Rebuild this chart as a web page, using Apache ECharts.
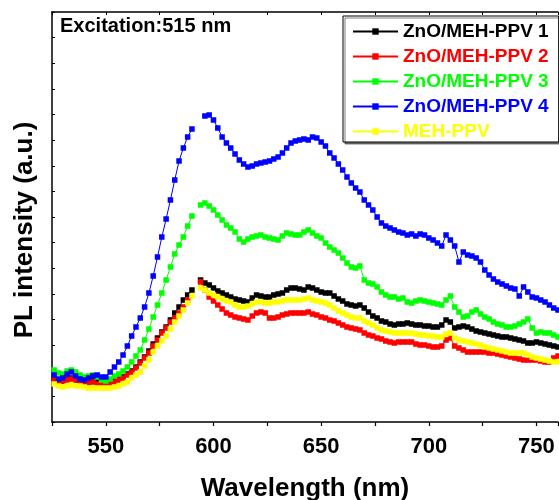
<!DOCTYPE html>
<html>
<head>
<meta charset="utf-8">
<script src="https://cdn.jsdelivr.net/npm/echarts/dist/echarts.min.js"></script>
<style>
  html, body { margin: 0; padding: 0; background: #fff; }
  #main { width: 559px; height: 500px; }
</style>
</head>
<body>
<div id="main"></div>
<script>
// wavelength (nm), 2 nm steps
const wavelength = [
  526,528,530,532,534,536,538,540,542,544,
  546,548,550,552,554,556,558,560,562,564,
  566,568,570,572,574,576,578,580,582,584,
  586,588,590,592,594,596,598,600,602,604,
  606,608,610,612,614,616,618,620,622,624,
  626,628,630,632,634,636,638,640,642,644,
  646,648,650,652,654,656,658,660,662,664,
  666,668,670,672,674,676,678,680,682,684,
  686,688,690,692,694,696,698,700,702,704,
  706,708,710,712,714,716,718,720,722,724,
  726,728,730,732,734,736,738,740,742,744,
  746,748,750,752,754,756,758,760
];

// PL intensity (a.u.); null = gap near 592 nm
const zno1 = [
  43,41,41,43,44,42,41,40,40,41,
  40,39,39,40,41,43,45,48,51,55,
  60,65,71,78,84,90,95,102,109,115,
  122,127,132,null,142,139,137,134,131,129,
  127,125,123,122,121,120,124,127,126,125,
  125,127,128,129,132,134,134,133,132,135,
  134,132,130,129,129,126,123,121,118,117,
  116,117,114,110,106,104,101,100,98,97,
  98,98,99,98,97,97,96,96,95,95,
  97,102,100,94,95,96,95,93,91,90,
  89,88,87,86,85,85,84,83,82,81,
  79,79,80,79,78,77,76,75
];
const zno2 = [
  43,41,41,42,43,42,41,40,39,40,
  38,38,38,39,40,42,44,47,50,54,
  59,64,69,76,82,89,94,100,104,109,
  115,122,null,null,140,132,125,121,117,113,
  109,107,105,104,103,102,106,109,110,109,
  104,104,105,107,108,109,109,109,109,110,
  108,107,105,104,102,101,99,97,95,94,
  93,92,89,87,86,84,83,81,80,79,
  80,80,80,80,78,77,77,76,75,75,
  76,82,84,76,74,72,70,70,70,70,
  70,69,69,68,67,66,65,64,63,62,
  62,62,62,61,60,60,64,66
];
const zno3 = [
  52,49,48,51,52,50,47,45,46,47,
  45,42,41,43,46,48,51,55,60,66,
  72,82,93,105,117,129,142,155,168,177,
  185,196,206,null,217,219,216,212,207,202,
  197,194,190,183,180,183,185,186,187,185,
  184,183,182,186,189,188,187,187,190,192,
  189,186,184,179,175,172,169,164,159,155,
  154,156,142,139,138,135,130,127,125,125,
  123,124,120,119,121,122,121,120,119,118,
  117,122,126,115,110,105,106,110,112,108,
  105,103,100,98,97,95,95,96,98,100,
  103,94,89,90,89,89,87,85
];
const zno4 = [
  47,43,44,48,50,46,43,42,44,46,
  47,45,45,50,55,60,67,76,86,95,
  104,115,129,146,165,185,203,222,242,261,
  274,285,293,null,null,306,307,302,294,285,
  279,274,268,262,258,255,256,258,259,260,
  261,263,265,269,274,279,281,282,283,282,
  285,284,280,276,269,264,258,252,245,239,
  234,230,222,217,212,205,199,196,194,192,
  190,189,187,188,186,188,187,184,182,179,
  176,187,182,176,160,170,167,166,164,160,
  152,147,143,140,138,136,134,133,126,135,
  130,125,124,122,120,117,114,112
];
const mehppv = [
  38,36,35,36,37,36,36,35,34,34,
  34,34,34,34,35,36,38,40,44,47,
  50,56,62,70,76,81,86,93,100,106,
  112,119,126,null,134,132,129,127,125,123,
  121,120,117,115,115,116,118,120,120,119,
  119,120,120,121,122,122,122,122,123,124,
  122,121,120,119,117,114,111,109,107,105,
  104,104,101,99,97,94,92,91,90,89,
  89,89,89,89,88,87,87,86,86,85,
  85,88,89,84,82,81,80,79,78,77,
  75,74,73,72,71,70,69,69,69,69,
  67,65,64,63,62,61,60,60
];

const names = ['ZnO/MEH-PPV 1', 'ZnO/MEH-PPV 2', 'ZnO/MEH-PPV 3', 'ZnO/MEH-PPV 4', 'MEH-PPV'];
const colors = ['#000000', '#ff0000', '#00ff00', '#0000ff', '#ffff00'];
const values = [zno1, zno2, zno3, zno4, mehppv];

const font = 'Liberation Sans, Arial, sans-serif';

let myChart = echarts.init(document.getElementById('main'));

let series = names.map(function (n, i) {
  return {
    name: n,
    type: 'line',
    data: wavelength.map(function (w, k) { return [w, values[i][k]]; }),
    symbol: 'rect',
    symbolSize: 5.5,
    showAllSymbol: true,
    connectNulls: false,
    lineStyle: { width: 1, color: colors[i] },
    itemStyle: { color: colors[i] },
    xAxisIndex: 0
  };
});

let option = {
  animation: false,
  backgroundColor: '#fff',
  grid: { left: 52, top: 12, right: 1, bottom: 78, outerBoundsMode: 'none', containLabel: false },
  graphic: [
    {
      type: 'text',
      left: 60,
      top: 16,
      style: { text: 'Excitation:515 nm', font: 'bold 20px ' + font, fill: '#000' }
    }
  ],
  legend: {
    orient: 'vertical',
    left: 343,
    top: 16,
    width: 214,
    padding: [6, 10, 1, 9],
    itemGap: 6,
    itemWidth: 45,
    itemHeight: 8,
    borderColor: '#000',
    borderWidth: 1,
    shadowColor: 'rgba(0,0,0,0.5)',
    shadowOffsetX: 2,
    shadowOffsetY: 2,
    backgroundColor: '#fff',
    textStyle: { fontFamily: font, fontWeight: 'bold', fontSize: 19, lineHeight: 18 },
    data: names.map(function (n, i) {
      return { name: n, textStyle: { color: colors[i] } };
    })
  },
  xAxis: [
    {
      type: 'value',
      min: 525,
      max: 760,
      interval: 25,
      name: 'Wavelength (nm)',
      nameLocation: 'middle',
      nameGap: 54,
      nameTextStyle: { fontFamily: font, fontWeight: 'bold', fontSize: 26, color: '#000' },
      axisLine: { lineStyle: { color: '#000', width: 1.5 } },
      axisTick: { inside: false, length: 4, lineStyle: { color: '#000', width: 1.2 } },
      axisLabel: {
        fontFamily: font, fontWeight: 'bold', fontSize: 22, color: '#000', margin: 14,
        formatter: function (v) { return v % 50 === 0 ? String(v) : ''; }
      },
      splitLine: { show: false }
    },
    {
      type: 'value',
      position: 'top',
      min: 525,
      max: 760,
      interval: 25,
      axisLine: { lineStyle: { color: '#000', width: 1.5 } },
      axisTick: { inside: true, length: 3, lineStyle: { color: '#000' } },
      axisLabel: { show: false },
      splitLine: { show: false }
    }
  ],
  yAxis: {
    type: 'value',
    min: 0,
    max: 410,
    interval: 25.625,
    name: 'PL intensity (a.u.)',
    nameLocation: 'middle',
    nameGap: 14,
    nameTextStyle: { fontFamily: font, fontWeight: 'bold', fontSize: 26, color: '#000', padding: [0, 26, 0, 0] },
    axisLine: { show: true, lineStyle: { color: '#000', width: 1.5 } },
    axisTick: { inside: true, length: 3, lineStyle: { color: '#000' } },
    axisLabel: { show: false },
    splitLine: { show: false }
  },
  series: series
};

myChart.setOption(option);
</script>
</body>
</html>
